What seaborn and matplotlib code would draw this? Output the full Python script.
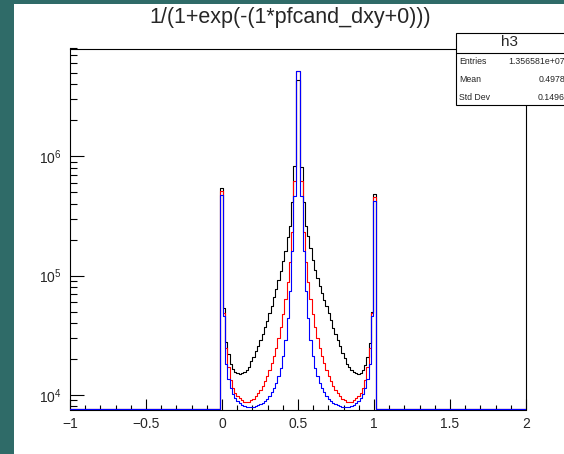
import numpy as np
import pandas as pd
import matplotlib
matplotlib.use("Agg")
import matplotlib.pyplot as plt
import matplotlib.ticker as mticker
from matplotlib.patches import Rectangle
import seaborn as sns

# ---------------- data (bins of width 0.015 on [-1, 2]; only bins -0.01..1.01 are filled) ----------------
bin_lo = -1.0
bin_hi = 2.0
n_bins = 200
first_filled = 66  # bin [-0.01, 0.005]

black_counts = [
    5.41e5, 5.40e4, 2.79e4, 2.21e4, 1.82e4, 1.65e4, 1.56e4, 1.52e4, 1.50e4, 1.52e4,
    1.56e4, 1.62e4, 1.72e4, 1.92e4, 2.09e4, 2.32e4, 2.59e4, 2.88e4, 3.26e4, 3.70e4,
    4.19e4, 4.84e4, 5.59e4, 6.59e4, 7.76e4, 9.23e4, 1.10e5, 1.32e5, 1.62e5, 2.09e5,
    2.59e5, 4.13e5, 8.29e5, 4.33e6,
    4.33e6, 8.13e5, 4.13e5, 2.59e5, 2.13e5, 1.69e5, 1.34e5, 1.12e5, 9.60e4, 8.23e4,
    7.12e4, 6.28e4, 5.54e4, 4.88e4, 4.23e4, 3.66e4, 3.23e4, 2.90e4, 2.56e4, 2.26e4,
    2.03e4, 1.82e4, 1.72e4, 1.62e4, 1.56e4, 1.52e4, 1.50e4, 1.53e4, 1.62e4, 1.79e4,
    2.09e4, 2.74e4, 4.99e4, 4.82e5,
]
red_counts = [
    5.11e5, 4.90e4, 2.49e4, 1.72e4, 1.34e4, 1.15e4, 1.04e4, 9.81e3, 9.34e3, 8.99e3,
    8.73e3, 8.65e3, 8.73e3, 8.99e3, 9.25e3, 9.71e3, 1.03e4, 1.10e4, 1.19e4, 1.31e4,
    1.44e4, 1.62e4, 1.86e4, 2.13e4, 2.49e4, 3.02e4, 3.73e4, 4.80e4, 6.42e4, 8.76e4,
    1.29e5, 2.31e5, 6.20e5, 5.17e6,
    5.17e6, 6.20e5, 2.31e5, 1.29e5, 8.76e4, 6.42e4, 4.80e4, 3.73e4, 3.02e4, 2.49e4,
    2.13e4, 1.86e4, 1.62e4, 1.44e4, 1.31e4, 1.19e4, 1.10e4, 1.03e4, 9.71e3, 9.25e3,
    8.99e3, 8.73e3, 8.65e3, 8.73e3, 8.99e3, 9.34e3, 9.81e3, 1.04e4, 1.15e4, 1.34e4,
    1.72e4, 2.49e4, 4.90e4, 4.54e5,
]
blue_counts = [
    4.77e5, 4.62e4, 1.82e4, 1.36e4, 1.15e4, 1.02e4, 9.43e3, 8.90e3, 8.56e3, 8.24e3,
    8.04e3, 7.93e3, 7.85e3, 7.88e3, 7.93e3, 8.04e3, 8.16e3, 8.32e3, 8.56e3, 8.82e3,
    9.25e3, 9.81e3, 1.05e4, 1.15e4, 1.26e4, 1.44e4, 1.69e4, 2.13e4, 2.90e4, 4.44e4,
    7.36e4, 1.60e5, 4.63e5, 5.19e6,
    5.19e6, 4.63e5, 1.60e5, 7.36e4, 4.44e4, 2.90e4, 2.13e4, 1.69e4, 1.44e4, 1.26e4,
    1.15e4, 1.05e4, 9.81e3, 9.25e3, 8.82e3, 8.56e3, 8.32e3, 8.16e3, 8.04e3, 7.93e3,
    7.88e3, 7.85e3, 7.93e3, 8.04e3, 8.24e3, 8.56e3, 8.90e3, 9.43e3, 1.02e4, 1.15e4,
    1.36e4, 1.82e4, 4.62e4, 4.21e5,
]

title = "1/(1+exp(-(1*pfcand_dxy+0)))"
stats_name = "h3"
stats_labels = ["Entries", "Mean", "Std Dev"]
stats_values = ["1.356581e+07", "0.4978", "0.1496"]
x_ticks = [-1, -0.5, 0, 0.5, 1, 1.5, 2]
x_ticklabels = ["\u22121", "\u22120.5", "0", "0.5", "1", "1.5", "2"]
y_lim = (7.55e3, 8.0e6)

# ---------------- figure ----------------
sns.set_theme(style="white")
plt.rcParams["font.family"] = ["Liberation Sans", "DejaVu Sans"]
plt.rcParams["mathtext.fontset"] = "custom"
plt.rcParams["mathtext.rm"] = "Liberation Sans"
plt.rcParams["mathtext.it"] = "Liberation Sans"
plt.rcParams["mathtext.bf"] = "Liberation Sans"

W, H = 564, 454
fig = plt.figure(figsize=(W / 100, H / 100), dpi=100, facecolor="#2f6b68")
fig.add_artist(Rectangle((14 / W, 0), 1, 450 / H, transform=fig.transFigure,
                         facecolor="white", edgecolor="none", zorder=-10))

ax_l, ax_r, ax_t, ax_b = 70, 526, 48.5, 409.5
ax = fig.add_axes([ax_l / W, 1 - ax_b / H, (ax_r - ax_l) / W, (ax_b - ax_t) / H])
ax.set_facecolor("white")
ax.set_yscale("log")

edges = np.linspace(bin_lo, bin_hi, n_bins + 1)
centers = 0.5 * (edges[:-1] + edges[1:])

for counts, col in [(black_counts, "black"), (red_counts, "red"), (blue_counts, "blue")]:
    full = np.zeros(n_bins)
    full[first_filled:first_filled + len(counts)] = counts
    # empty bins are drawn on the lower frame edge, like ROOT does on a log axis
    full = np.maximum(full, y_lim[0])
    df = pd.DataFrame({"x": centers, "w": full})
    sns.histplot(data=df, x="x", weights="w", bins=n_bins, binrange=(bin_lo, bin_hi),
                 element="step", fill=False, color=col, linewidth=0.8, ax=ax, zorder=3)

ax.set_xlim(bin_lo, bin_hi)
ax.set_ylim(*y_lim)
ax.set_xlabel("")
ax.set_ylabel("")

for s in ax.spines.values():
    s.set_color("black")
    s.set_linewidth(0.8)
    s.set_visible(True)

ax.set_xticks(x_ticks)
ax.set_xticklabels(x_ticklabels)
ax.xaxis.set_minor_locator(mticker.MultipleLocator(0.1))
ax.yaxis.set_major_locator(mticker.LogLocator(base=10, numticks=10))
ax.yaxis.set_minor_locator(mticker.LogLocator(base=10, subs=np.arange(2, 10), numticks=20))
ax.yaxis.set_minor_formatter(mticker.NullFormatter())
ax.tick_params(axis="x", which="major", direction="in", length=7.7, width=0.8,
               labelsize=10, pad=5.5, top=False, bottom=True, color="black")
ax.tick_params(axis="x", which="minor", direction="in", length=3.6, width=0.8,
               top=False, bottom=True, color="black")
ax.tick_params(axis="y", which="major", direction="in", length=10, width=0.8,
               labelsize=10, pad=6, left=True, right=False, color="black")
ax.tick_params(axis="y", which="minor", direction="in", length=5, width=0.8,
               left=True, right=False, color="black")

# title
fig.text(290 / W, 1 - 18 / H, title, ha="center", va="center", fontsize=15.5)

# stats box
bx0, bx1, by0, by1, bdiv = 455.5, 600, 32.5, 104.5, 52.5
fig.add_artist(Rectangle((bx0 / W, 1 - by1 / H), (bx1 - bx0) / W, (by1 - by0) / H,
                         transform=fig.transFigure, facecolor="white", edgecolor="black",
                         linewidth=0.8, zorder=5))
fig.add_artist(plt.Line2D([bx0 / W, bx1 / W], [1 - bdiv / H, 1 - bdiv / H],
                          transform=fig.transFigure, color="black", linewidth=0.8, zorder=6))
fig.text(510 / W, 1 - 42.5 / H, stats_name, ha="center", va="center", fontsize=11, zorder=7)
for i, (lab, val) in enumerate(zip(stats_labels, stats_values)):
    yy = 1 - (62 + 17.5 * i) / H
    fig.text(459 / W, yy, lab, ha="left", va="center", fontsize=6.3, zorder=7)
    fig.text(565 / W, yy, val, ha="right", va="center", fontsize=6.3, zorder=7)

fig.savefig("out.png", dpi=100, facecolor=fig.get_facecolor())
